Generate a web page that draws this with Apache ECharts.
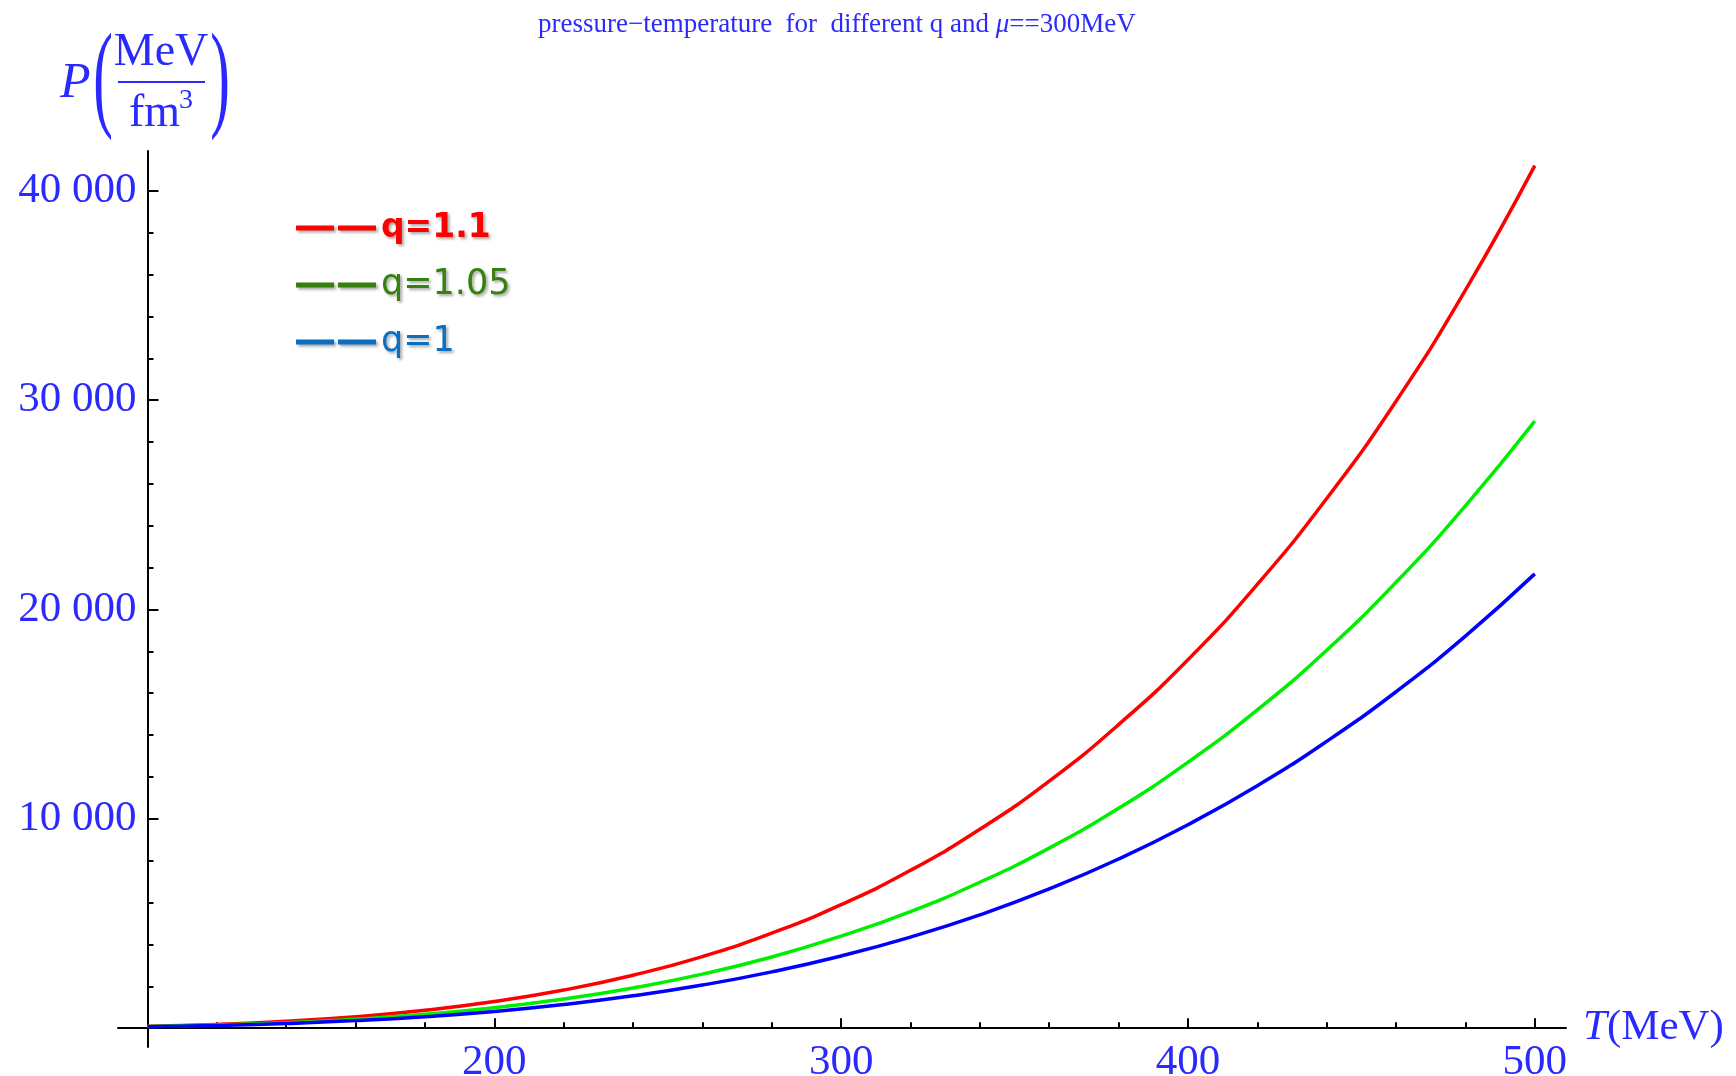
<!DOCTYPE html>
<html>
<head>
<meta charset="utf-8">
<title>pressure-temperature</title>
<script src="https://cdn.jsdelivr.net/npm/echarts@6/dist/echarts.min.js"></script>
<style>
  html, body { margin: 0; padding: 0; background: #fff; }
  #main { width: 1736px; height: 1076px; }
</style>
</head>
<body>
<div id="main"></div>
<script>
// T (MeV)
var temps = [100, 120, 140, 160, 180, 200, 220, 240, 260, 280, 300, 320, 340, 360, 380, 400, 420, 440, 460, 480, 500];
// P (MeV/fm^3)
var pQ110 = [90, 180, 330, 545, 850, 1270, 1820, 2530, 3420, 4540, 5900, 7540, 9500, 11800, 14500, 17600, 21200, 25300, 29950, 35250, 41200];
var pQ105 = [75, 150, 260, 430, 660, 975, 1390, 1920, 2580, 3400, 4400, 5570, 6970, 8600, 10500, 12700, 15200, 18050, 21300, 24950, 29000];
var pQ100 = [65, 125, 220, 360, 550, 800, 1130, 1545, 2060, 2690, 3450, 4350, 5410, 6650, 8080, 9720, 11580, 13700, 16070, 18730, 21700];
var seriesNames = ['q=1.1', 'q=1.05', 'q=1'];
// ticks
var xMajorTicks = [200, 300, 400, 500];
var xMinorTicks = [120, 140, 160, 180, 220, 240, 260, 280, 320, 340, 360, 380, 420, 440, 460, 480];
var yMajorTicks = [10000, 20000, 30000, 40000];
var yMinorTicks = [2000, 4000, 6000, 8000, 12000, 14000, 16000, 18000, 22000, 24000, 26000, 28000,
                   32000, 34000, 36000, 38000];

(function() {
    'use strict';
    var blue = '#2a2aff';
    var serif = '"Liberation Serif", "Times New Roman", serif';

    var gridLeft = 118, gridRight = 170;
    var xMin = 91.5, xMax = 509;
    var pxPerT = (1736 - gridLeft - gridRight) / (xMax - xMin);
    // y axis crosses at T=100, x axis sticks out a bit to the left like Mathematica
    var yOffset = -(100 - xMin) * pxPerT;

    function pairs(vals) {
        var out = [];
        for (var i = 0; i < temps.length; i++) {
            out.push([temps[i], vals[i]]);
        }
        return out;
    }

    function thousands(v) {
        return String(v).replace(/\B(?=(\d{3})+(?!\d))/g, ' ');
    }

    var axisLineStyle = { color: '#000', width: 2 };
    var legendShadow = {
        textShadowColor: 'rgba(0,0,0,0.35)',
        textShadowBlur: 3,
        textShadowOffsetX: 2,
        textShadowOffsetY: 2
    };
    function legendText(color, size, weight) {
        return Object.assign({
            color: color,
            fontSize: size,
            fontWeight: weight,
            fontFamily: '"DejaVu Sans", sans-serif',
            lineHeight: 40
        }, legendShadow);
    }
    function legendIcon(color) {
        return {
            color: color,
            shadowColor: 'rgba(0,0,0,0.35)',
            shadowBlur: 3,
            shadowOffsetX: 2,
            shadowOffsetY: 2
        };
    }

    var chart = echarts.init(document.getElementById('main'), null, { renderer: 'canvas' });
    var option = {
        animation: false,
        backgroundColor: '#fff',
        title: {
            text: 'pressure\u2212temperature  for  different q and {i|\u03bc}==300MeV',
            left: 533,
            top: 6,
            textStyle: {
                fontFamily: serif,
                fontSize: 27,
                fontWeight: 'normal',
                color: blue,
                rich: {
                    i: { fontFamily: serif, fontSize: 27, fontStyle: 'italic', color: blue }
                }
            }
        },
        legend: {
            orient: 'vertical',
            left: 291,
            top: 203,
            itemWidth: 80,
            itemHeight: 5,
            itemGap: 17,
            selectedMode: false,
            icon: 'path://M0,0H39V5H0Z M43,0H82V5H43Z',
            data: [
                { name: seriesNames[0], itemStyle: legendIcon('#ff0000'), textStyle: legendText('#ff0000', 33, 'bold') },
                { name: seriesNames[1], itemStyle: legendIcon('#36800f'), textStyle: legendText('#36800f', 35, 'normal') },
                { name: seriesNames[2], itemStyle: legendIcon('#0a6fc0'), textStyle: legendText('#0a6fc0', 35, 'normal') }
            ]
        },
        grid: {
            left: gridLeft,
            right: gridRight,
            top: 151,
            bottom: 29,
            containLabel: false,
            outerBoundsMode: 'none'
        },
        xAxis: [{
            type: 'value',
            position: 'bottom',
            min: xMin,
            max: xMax,
            name: '{i|T}(MeV)',
            nameLocation: 'end',
            nameGap: 17,
            nameTextStyle: {
                fontFamily: serif,
                fontSize: 43,
                color: blue,
                rich: { i: { fontFamily: serif, fontSize: 43, fontStyle: 'italic', color: blue } }
            },
            axisLine: { onZero: true, lineStyle: axisLineStyle },
            axisTick: { inside: true, length: 10, customValues: xMajorTicks, lineStyle: axisLineStyle },
            axisLabel: {
                customValues: xMajorTicks,
                margin: -6,
                fontFamily: serif,
                fontSize: 43,
                color: blue
            },
            splitLine: { show: false }
        }, {
            type: 'value',
            position: 'bottom',
            min: xMin,
            max: xMax,
            axisLine: { show: false, onZero: true },
            axisTick: { inside: true, length: 6, customValues: xMinorTicks, lineStyle: axisLineStyle },
            axisLabel: { show: false },
            splitLine: { show: false }
        }],
        yAxis: [{
            type: 'value',
            position: 'left',
            offset: yOffset,
            min: -900,
            max: 41900,
            axisLine: { show: true, onZero: false, lineStyle: axisLineStyle },
            axisTick: { show: true, inside: true, length: 11, customValues: yMajorTicks, lineStyle: axisLineStyle },
            axisLabel: {
                customValues: yMajorTicks,
                margin: 11,
                fontFamily: serif,
                fontSize: 43,
                color: blue,
                formatter: thousands
            },
            splitLine: { show: false }
        }, {
            type: 'value',
            position: 'left',
            offset: yOffset,
            min: -900,
            max: 41900,
            axisLine: { show: false, onZero: false },
            axisTick: { show: true, inside: true, length: 6, customValues: yMinorTicks, lineStyle: axisLineStyle },
            axisLabel: { show: false },
            splitLine: { show: false }
        }],
        // y axis name  P(MeV/fm^3)
        graphic: [
            { type: 'text', x: 60, y: 84, style: { text: 'P', font: 'italic 50px ' + serif, fill: blue, align: 'left', verticalAlign: 'middle' } },
            { type: 'text', x: 103, y: 84, scaleX: 0.5, style: { text: '(', font: '118px ' + serif, fill: blue, align: 'center', verticalAlign: 'middle' } },
            { type: 'text', x: 161, y: 53, style: { text: 'MeV', font: '46px ' + serif, fill: blue, align: 'center', verticalAlign: 'middle' } },
            { type: 'line', shape: { x1: 118, y1: 82, x2: 205, y2: 82 }, style: { stroke: blue, lineWidth: 2 } },
            { type: 'text', x: 129, y: 114, style: { text: 'fm', font: '46px ' + serif, fill: blue, align: 'left', verticalAlign: 'middle' } },
            { type: 'text', x: 186, y: 101, style: { text: '3', font: '28px ' + serif, fill: blue, align: 'center', verticalAlign: 'middle' } },
            { type: 'text', x: 220, y: 84, scaleX: 0.5, style: { text: ')', font: '118px ' + serif, fill: blue, align: 'center', verticalAlign: 'middle' } }
        ],
        series: [{
            name: seriesNames[0],
            type: 'line',
            data: pairs(pQ110),
            smooth: true,
            showSymbol: false,
            color: '#ff0000',
            lineStyle: { color: '#ff0000', width: 3.5 }
        }, {
            name: seriesNames[1],
            type: 'line',
            data: pairs(pQ105),
            smooth: true,
            showSymbol: false,
            color: '#00ee00',
            lineStyle: { color: '#00ee00', width: 3.5 }
        }, {
            name: seriesNames[2],
            type: 'line',
            data: pairs(pQ100),
            smooth: true,
            showSymbol: false,
            color: '#0000ff',
            lineStyle: { color: '#0000ff', width: 3.5 }
        }]
    };
    chart.setOption(option);
})();
</script>
</body>
</html>
